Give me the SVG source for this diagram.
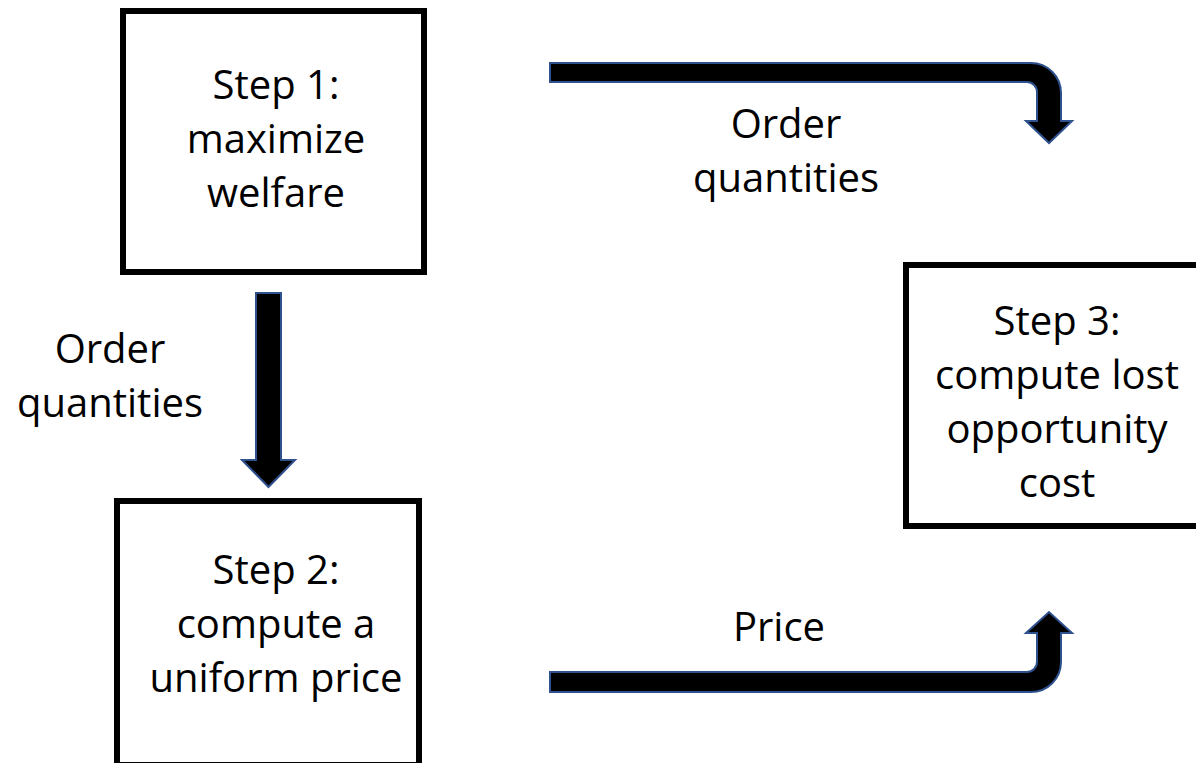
<svg xmlns="http://www.w3.org/2000/svg" width="1196" height="763" viewBox="0 0 1196 763">
<style>
.box{fill:#fff;stroke:#000;stroke-width:6}
.t{font-family:"Open Sans","Liberation Sans",sans-serif;font-size:40px;fill:#000;text-anchor:middle}
.arr{fill:#000;stroke:#2F528F;stroke-width:2;stroke-linejoin:miter}
</style>
<rect width="1196" height="763" fill="#fff"/>
<g id="connectors">
<path class="arr" d="M550,63 L1031,63 A30,30 0 0 1 1061,93 L1061,121 L1072,121 L1049,143 L1026,121 L1037,121 L1037,92 A10,10 0 0 0 1027,82 L550,82 Z"/>
<path class="arr" d="M550,692 L1031,692 A30,30 0 0 0 1061,662 L1061,633 L1072,633 L1049,612 L1026,633 L1037,633 L1037,662 A10,10 0 0 1 1027,672 L550,672 Z"/>
<path class="arr" d="M256,293 L281,293 L281,460 L295,460 L268.5,487 L242,460 L256,460 Z"/>
<text class="t" x="786" y="138">Order</text>
<text class="t" x="786" y="192">quantities</text>
<text class="t" x="110" y="363">Order</text>
<text class="t" x="110" y="417">quantities</text>
<text class="t" x="779" y="641">Price</text>
</g>
<g id="step1">
<rect class="box" x="123" y="11" width="301" height="261"/>
<text class="t" x="276" y="99">Step 1:</text>
<text class="t" x="276" y="153">maximize</text>
<text class="t" x="276" y="207">welfare</text>
</g>
<g id="step2">
<rect class="box" x="117" y="501" width="302" height="264"/>
<text class="t" x="276" y="584">Step 2:</text>
<text class="t" x="276" y="638">compute a</text>
<text class="t" x="276" y="692">uniform price</text>
</g>
<g id="step3">
<rect class="box" x="906" y="265" width="300" height="261"/>
<text class="t" x="1057" y="335">Step 3:</text>
<text class="t" x="1057" y="389">compute lost</text>
<text class="t" x="1057" y="443">opportunity</text>
<text class="t" x="1057" y="497">cost</text>
</g>
</svg>
